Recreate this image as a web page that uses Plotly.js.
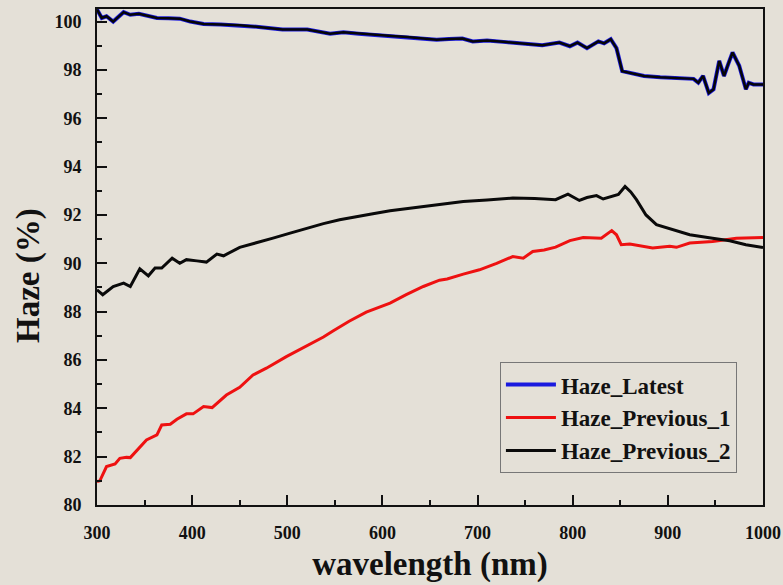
<!DOCTYPE html>
<html>
<head>
<meta charset="utf-8">
<script src="https://cdn.plot.ly/plotly-3.0.1.min.js"></script>
<style>
  html, body { margin: 0; padding: 0; background: #e4e0d7; }
  #chart { width: 783px; height: 585px; }
</style>
</head>
<body>
<div id="chart"></div>
<script>
// Haze_Latest
const latestX = [300,305,310,317,328,335,344,354,363,375,387,398,412,430,450,470,495,521,545,559,575,590,610,626,640,657,670,684,695,710,730,744,755,768,786,797,805,815,827,833,840,846,852,858,865,875,892,910,927,932,937,943,948,954,959,964,968,975,982,985,990,1000];
const latestY = [100.5,100.15,100.22,100.0,100.39,100.28,100.32,100.22,100.15,100.14,100.12,100.0,99.9,99.88,99.85,99.78,99.67,99.67,99.5,99.56,99.5,99.45,99.4,99.36,99.32,99.25,99.28,99.3,99.18,99.22,99.15,99.1,99.05,99.02,99.13,98.98,99.13,98.9,99.18,99.1,99.27,98.9,97.95,97.9,97.85,97.75,97.7,97.68,97.63,97.47,97.75,97.05,97.2,98.37,97.75,98.3,98.72,98.17,97.2,97.47,97.4,97.4];

// Haze_Previous_1
const prev1X = [300,303,310,319,324,331,335,342,352,363,368,377,384,394,401,412,421,436,450,464,478,499,520,538,548,565,583,608,625,643,660,668,685,702,720,737,748,758,770,782,797,811,830,841,846,851,860,872,884,902,909,923,947,972,998,1000];
const prev1Y = [80.97,81.0,81.59,81.7,81.93,81.97,81.96,82.28,82.69,82.9,83.31,83.34,83.55,83.77,83.77,84.07,84.03,84.55,84.87,85.38,85.66,86.14,86.58,86.95,87.2,87.6,87.98,88.35,88.7,89.04,89.3,89.35,89.55,89.73,90.0,90.28,90.21,90.49,90.55,90.67,90.94,91.07,91.04,91.35,91.18,90.77,90.8,90.7,90.63,90.7,90.66,90.84,90.9,91.04,91.07,91.07];

// Haze_Previous_2
const prev2X = [300,306,317,328,335,345,354,361,368,379,387,394,405,415,426,433,450,468,485,503,520,538,555,573,590,608,625,643,660,685,710,737,760,782,795,807,815,825,832,841,848,855,861,867,877,888,902,923,947,965,982,1000];
const prev2Y = [88.9,88.7,89.04,89.18,89.04,89.77,89.48,89.8,89.8,90.21,90.0,90.15,90.1,90.05,90.38,90.31,90.66,90.84,91.04,91.25,91.45,91.64,91.8,91.94,92.05,92.17,92.26,92.35,92.45,92.56,92.62,92.7,92.68,92.63,92.86,92.6,92.72,92.8,92.66,92.77,92.85,93.18,92.95,92.63,92.0,91.6,91.42,91.18,91.04,90.93,90.77,90.65];

const seriesNames = ["Haze_Latest", "Haze_Previous_1", "Haze_Previous_2"];
const xTickVals = [300,400,500,600,700,800,900,1000];
const yTickVals = [80,82,84,86,88,90,92,94,96,98,100];
const xTitle = "wavelength (nm)";
const yTitle = "Haze (%)";

const serif = "Liberation Serif, Times New Roman, serif";

const traces = [
  { x: latestX, y: latestY, name: seriesNames[0], mode: "lines",
    line: { color: "#1a1adf", width: 4 } },
  { x: latestX, y: latestY, name: seriesNames[0], mode: "lines", showlegend: false,
    hoverinfo: "skip", line: { color: "#050508", width: 2.5 } },
  { x: prev1X, y: prev1Y, name: seriesNames[1], mode: "lines",
    line: { color: "#ee1111", width: 3 } },
  { x: prev2X, y: prev2Y, name: seriesNames[2], mode: "lines",
    line: { color: "#0a0a0a", width: 3 } }
];

const axisCommon = {
  showgrid: false, zeroline: false,
  showline: true, linecolor: "#111", linewidth: 2, mirror: true,
  ticks: "inside", ticklen: 10, tickwidth: 2, tickcolor: "#111",
  tickfont: { family: serif, size: 18, color: "#111", weight: "bold" },
  ticklabelstandoff: 10
};

const layout = {
  width: 783, height: 585,
  paper_bgcolor: "#e4e0d7", plot_bgcolor: "#e4e0d7",
  margin: { l: 97, r: 20, t: 9, b: 80 },
  showlegend: true,
  legend: {
    x: 0.605, y: 0.288, xanchor: "left", yanchor: "top",
    bgcolor: "rgba(0,0,0,0)", bordercolor: "#777", borderwidth: 1,
    font: { family: serif, size: 23, color: "#111", weight: "bold" },
    itemwidth: 50, tracegroupgap: 0
  },
  xaxis: Object.assign({}, axisCommon, {
    range: [300, 1000], tickvals: xTickVals, ticktext: xTickVals.map(String),
    minor: { dtick: 50, tick0: 300, ticks: "inside", ticklen: 5, tickwidth: 2, tickcolor: "#111", showgrid: false },
    title: { text: xTitle, standoff: 10,
      font: { family: serif, size: 33, color: "#111", weight: "bold" } }
  }),
  yaxis: Object.assign({}, axisCommon, {
    range: [80, 100.52], tickvals: yTickVals, ticktext: yTickVals.map(String),
    minor: { dtick: 1, tick0: 80, ticks: "inside", ticklen: 5, tickwidth: 2, tickcolor: "#111", showgrid: false }
  }),
  annotations: [{
    text: yTitle, textangle: -90, showarrow: false,
    xref: "paper", yref: "paper", x: 0, y: 0.4617,
    xanchor: "center", yanchor: "middle", xshift: -68,
    font: { family: serif, size: 33, color: "#111", weight: "bold" }
  }]
};

Plotly.newPlot("chart", traces, layout, { displayModeBar: false, staticPlot: true });
</script>
</body>
</html>
